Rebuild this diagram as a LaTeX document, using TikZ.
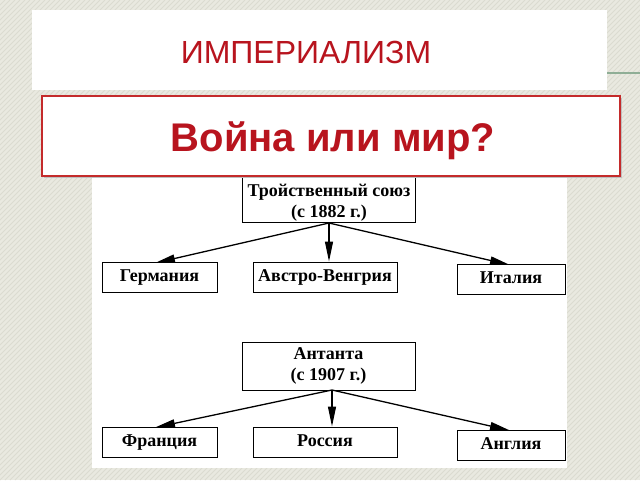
\documentclass[tikz,border=0pt]{standalone}
\usepackage{fontspec}
\setmainfont{Liberation Serif}
\newfontfamily\titlefont{Liberation Sans}
\usetikzlibrary{arrows.meta}
\definecolor{bgc}{HTML}{E9E9E0}
\definecolor{stripec}{HTML}{DBDBD0}
\definecolor{titlered}{HTML}{B8141E}
\definecolor{boxred}{HTML}{C42B2B}
\definecolor{linegreen}{HTML}{8FAE96}
\tikzset{
  px/.style={x=1pt,y=-1pt},
  orgfont/.style={font=\fontsize{18}{21}\selectfont\bfseries},
  orgbox/.style={draw=black,line width=1pt,fill=white,inner sep=0pt,orgfont},
  leafbox/.style={orgbox,minimum height=30pt,text height=12pt,text depth=4pt},
  link/.style={line width=1.3pt,-{Triangle[length=20pt,width=8pt]}},
}
\begin{document}
\begin{tikzpicture}[px]
\useasboundingbox (0,0) rectangle (640,480);
\fill[bgc] (0,0) rectangle (640,480);
\begin{scope}
\clip (0,0) rectangle (640,480);
\foreach \i in {0,5,...,1120} {
  \draw[stripec,line width=1pt] (\i-480,480) -- (\i,0);
}
\end{scope}
% green line
\draw[linegreen,line width=1.5pt] (607,73) -- (640,73);
% title box
\fill[white] (32,10) rectangle (607,90);
\node[font=\titlefont\fontsize{32}{34}\selectfont,text=titlered,anchor=base] (title) at (306,63) {ИМПЕРИАЛИЗМ};
% white picture area
\fill[white] (92,176) rectangle (567,468);
% diagram
\node[orgbox,minimum width=173pt,minimum height=53pt,anchor=south west] (tri) at (242,223) {};
\node[orgfont,align=center] (tritext) at (329,203) {Тройственный союз\\(с 1882 г.)};
\node[leafbox,minimum width=115pt] (ger) at (159.5,277) {Германия};
\node[leafbox,minimum width=144pt] (aus) at (325,277) {Австро-Венгрия};
\node[leafbox,minimum width=108pt] (ita) at (511,279) {Италия};
\coordinate (trib) at (329,223);
\draw[link] (trib) -- (155,263);
\draw[link] (trib) -- (aus.north -| trib);
\draw[link] (trib) -- (510,265);

\node[orgbox,align=center,minimum width=173pt,minimum height=48pt] (ent) at (328.5,366) {Антанта\\(с 1907 г.)};
\node[leafbox,minimum width=115pt] (fra) at (159.5,442) {Франция};
\node[leafbox,minimum width=144pt] (rus) at (325,442) {Россия};
\node[leafbox,minimum width=108pt] (eng) at (511,445) {Англия};
\coordinate (entb) at (332,390);
\draw[link] (entb) -- (155,427.5);
\draw[link] (entb) -- (rus.north -| entb);
\draw[link] (entb) -- (510,430.5);
% red box
\fill[black!25] (44,98) rectangle (622,178);
\draw[boxred,line width=1.6pt,fill=white] (42,96) rectangle (620,176);
\node[font=\titlefont\fontsize{40}{44}\selectfont\bfseries,text=titlered,anchor=base] (war) at (333,151) {Война или мир?};
\end{tikzpicture}
\end{document}
